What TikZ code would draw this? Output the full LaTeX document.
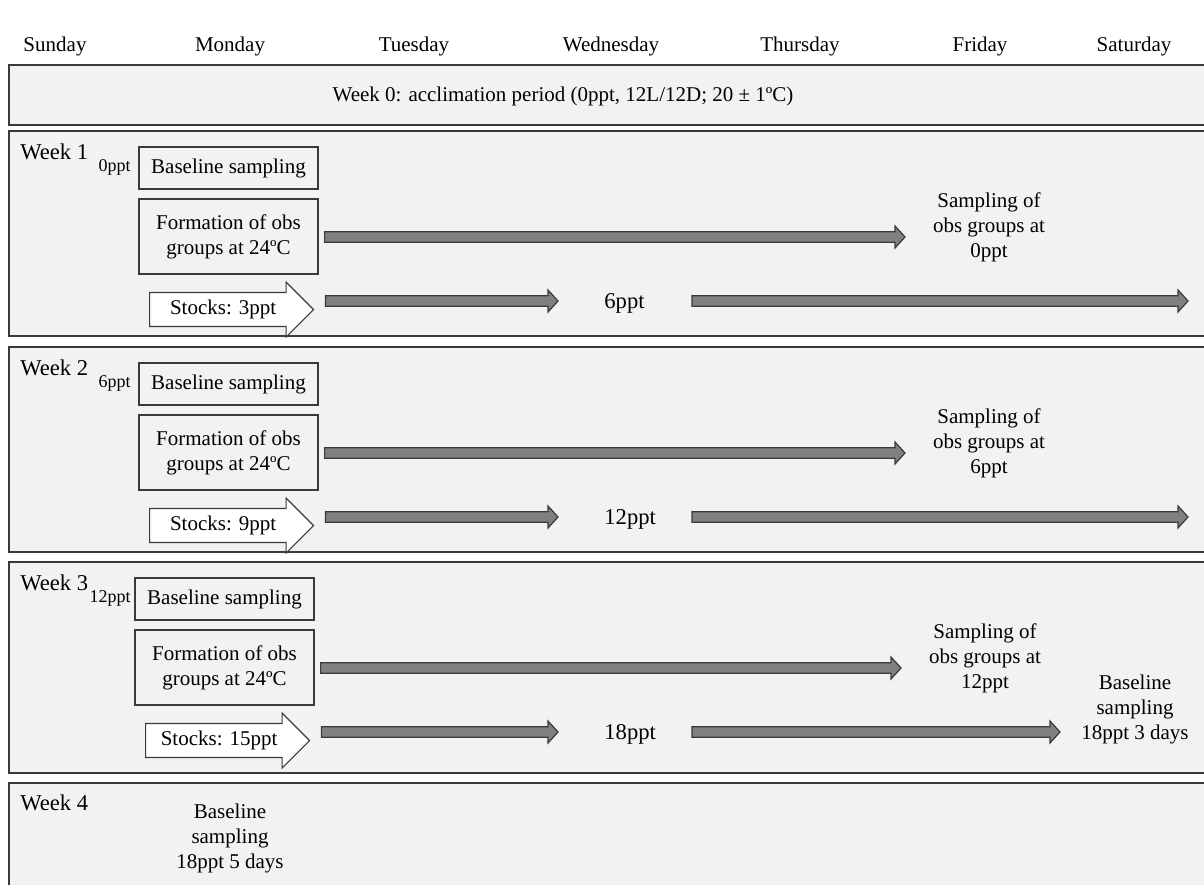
\documentclass[tikz,border=0pt]{standalone}
\usepackage{fontspec}
\setmainfont{Liberation Serif}
\usepackage{tikz}
\usetikzlibrary{shapes.arrows}
\usetikzlibrary{calc}
\definecolor{boxfill}{HTML}{F2F2F2}
\definecolor{boxline}{HTML}{3A3A3A}
\definecolor{arrowgray}{HTML}{808080}

\begin{document}
\begin{tikzpicture}[x=0.5pt,y=-0.5pt,line join=miter,
  font=\fontsize{10.5}{12.5}\selectfont,
  weekbox/.style={draw=boxline,fill=boxfill,line width=0.9pt},
  weeklab/.style={anchor=base west,inner sep=0pt,font=\fontsize{11.3}{13}\selectfont},
  labbox/.style={draw=boxline,fill=boxfill,line width=0.6pt,minimum width=89.5pt,align=center},
  small/.style={font=\fontsize{9}{10}\selectfont,inner sep=0pt},
  stockarrow/.style={single arrow,draw=boxline,fill=white,line width=0.6pt,
    minimum height=82pt,minimum width=27.5pt,single arrow head extend=3.75pt,inner sep=1pt},
  garrow/.style={draw=boxline,fill=arrowgray,line width=0.6pt,
    to path={let \p1=(\tikztostart),\p2=(\tikztotarget) in
      (\x1,\y2+2.6pt) -- (\x2-5pt,\y2+2.6pt) -- (\x2-5pt,\y2+5.5pt) -- (\x2,\y2)
      -- (\x2-5pt,\y2-5.5pt) -- (\x2-5pt,\y2-2.6pt) -- (\x1,\y2-2.6pt) -- cycle}}]
\clip (0,0) rectangle (1204,884);
\fill[white] (0,0) rectangle (1204,884);
% days of the week
\foreach \d/\x in {Sunday/55,Monday/230,Tuesday/414,Wednesday/611,Thursday/800,Friday/980,Saturday/1134}
  \node[anchor=base] (day\d) at (\x,51) {\d};
% week 0
\draw[weekbox] (9,65) rectangle (1215,125);
\node (wk0) at (563,96) {Week 0: acclimation period (0ppt, 12L/12D; 20 ± 1ºC)};
% weeks 1-3
\foreach \w/\oy/\ox/\h/\sal/\stk/\mid/\e in {1/0/0/205/0ppt/3ppt/6ppt/1188,
    2/216/0/205/6ppt/9ppt/12ppt/1188,3/431/-4/211/12ppt/15ppt/18ppt/1060}{
  \begin{scope}[shift={(0,\oy)}]
  \draw[weekbox] (9,131) rectangle (1215,{131+\h});
  \node[weeklab] (wk\w) at (20,159) {Week \w};
  \node[small,anchor=base east] (sal\w) at (131,171) {\sal};
  \node[labbox,minimum height=21pt] (bs\w) at ({228.5+\ox},168) {Baseline sampling};
  \node[labbox,minimum height=37.5pt] (fm\w) at ({228.5+\ox},236.5) {Formation of obs\\groups at 24ºC};
  \node[stockarrow,anchor=tail] (st\w) at ({149+\ox},309.5) {Stocks: \stk};
  \node[align=center] (smp\w) at ({989+\ox},227) {Sampling of\\obs groups at\\\sal};
  \node[anchor=west,inner sep=0pt,font=\fontsize{11.3}{13}\selectfont] (mid\w) at (604,303) {\mid};
  \coordinate (a\w) at ({905+\ox},237);
  \coordinate (b\w) at (558,301);
  \coordinate (c\w) at (692,301);
  \coordinate (d\w) at (\e,301);
  \draw[garrow] ([xshift=3pt]fm\w.east) to (a\w);
  \draw[garrow] ([xshift=5.5pt]st\w.tip) to (b\w);
  \draw[garrow] (c\w) to (d\w);
  \end{scope}
}
\node[align=center] (bl3) at (1135,709) {Baseline\\sampling\\18ppt 3 days};
% week 4
\draw[weekbox] (9,783) rectangle (1215,900);
\node[weeklab] (wk4) at (20,810) {Week 4};
\node[align=center] (bl4) at (230,838) {Baseline\\sampling\\18ppt 5 days};
\end{tikzpicture}
\end{document}
